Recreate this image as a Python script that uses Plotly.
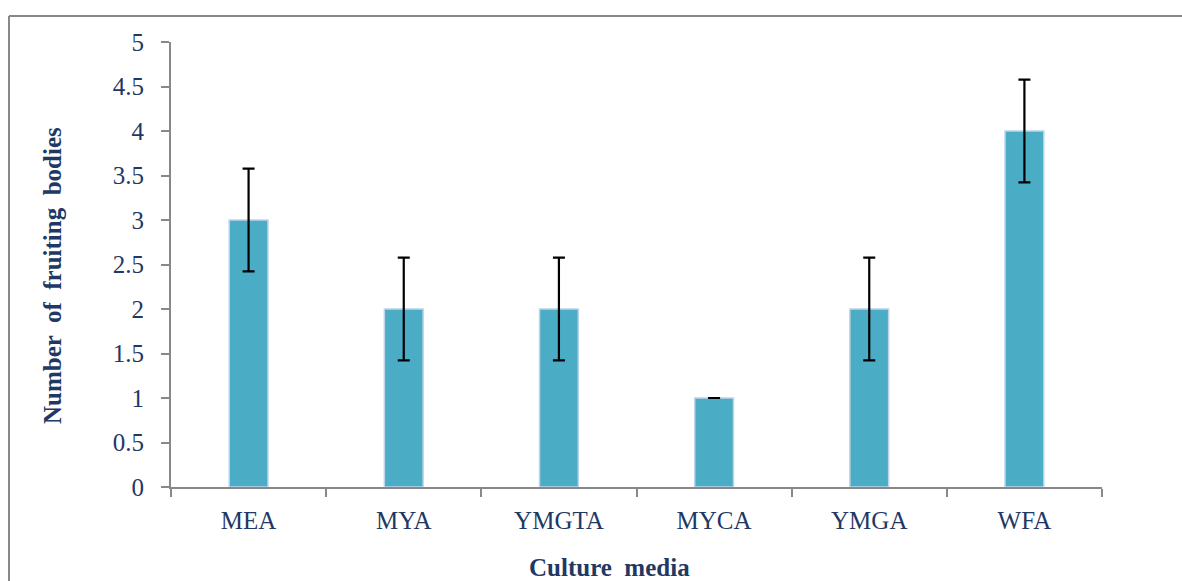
import plotly.graph_objects as go

categories = ["MEA", "MYA", "YMGTA", "MYCA", "YMGA", "WFA"]
values = [3, 2, 2, 1, 2, 4]
errors = [0.577, 0.577, 0.577, 0.0, 0.577, 0.577]
y_ticks = [0, 0.5, 1, 1.5, 2, 2.5, 3, 3.5, 4, 4.5, 5]

W, H = 1182, 581
L, R, T, B = 171, 80, 42, 94
pw, ph = W - L - R, H - T - B

navy = "#1F3864"
axis_gray = "#888888"
font_family = "Liberation Serif, Times New Roman, serif"

fig = go.Figure()
fig.add_trace(go.Bar(
    x=categories, y=values, width=0.25,
    marker=dict(color="#4BACC6", line=dict(color="#BDD4EA", width=1.5)),
    error_y=dict(type="data", array=errors, visible=True, color="black",
                 thickness=2.2, width=6),
))

fig.update_layout(
    width=W, height=H,
    margin=dict(l=L, r=R, t=T, b=B, pad=0),
    paper_bgcolor="white", plot_bgcolor="white",
    showlegend=False,
    font=dict(family=font_family, color=navy, size=25),
    xaxis=dict(
        showline=True, linecolor=axis_gray, linewidth=2,
        ticks="outside", ticklen=8, tickcolor=axis_gray, tickwidth=2,
        tickson="boundaries", showgrid=False, zeroline=False,
        tickfont=dict(size=25, color=navy, family=font_family),
        ticklabelstandoff=10,
        range=[-0.5, 5.5],
    ),
    yaxis=dict(
        range=[0, 5], tickvals=y_ticks,
        ticktext=[f"{v:g}" for v in y_ticks],
        showline=True, linecolor=axis_gray, linewidth=2,
        ticks="outside", ticklen=8, tickcolor=axis_gray, tickwidth=2,
        showgrid=False, zeroline=False, ticklabelstandoff=12,
        tickfont=dict(size=25, color=navy, family=font_family),
    ),
)

# outer chart frame: top and left edges (right/bottom lie outside the picture)
fx0 = (9 - L) / pw
fy1 = 1 + (T - 16) / ph
fig.add_shape(type="line", xref="paper", yref="paper",
              x0=fx0, x1=(W + 10 - L) / pw, y0=fy1, y1=fy1,
              line=dict(color=axis_gray, width=2), layer="below")
fig.add_shape(type="line", xref="paper", yref="paper",
              x0=fx0, x1=fx0, y0=fy1, y1=-(H + 10 - T - ph) / ph,
              line=dict(color=axis_gray, width=2), layer="below")

fig.add_annotation(text="<b>Culture  media</b>", xref="paper", yref="paper",
                   x=(609 - L) / pw, y=-(567 - T - ph) / ph,
                   showarrow=False, xanchor="center", yanchor="middle",
                   font=dict(size=25, color=navy, family=font_family))
fig.add_annotation(text="<b>Number  of  fruiting  bodies</b>", xref="paper", yref="paper",
                   x=(52 - L) / pw, y=1 - (276 - T) / ph, textangle=-90,
                   showarrow=False, xanchor="center", yanchor="middle",
                   font=dict(size=25, color=navy, family=font_family))

fig.write_html(
    "out.html", config={"displayModeBar": False},
    post_script=(
        "document.documentElement.style.overflow='hidden';"
        "document.documentElement.style.margin='0';"
        "document.body.style.margin='0';"
        "document.body.style.overflow='hidden';"
    ),
)
